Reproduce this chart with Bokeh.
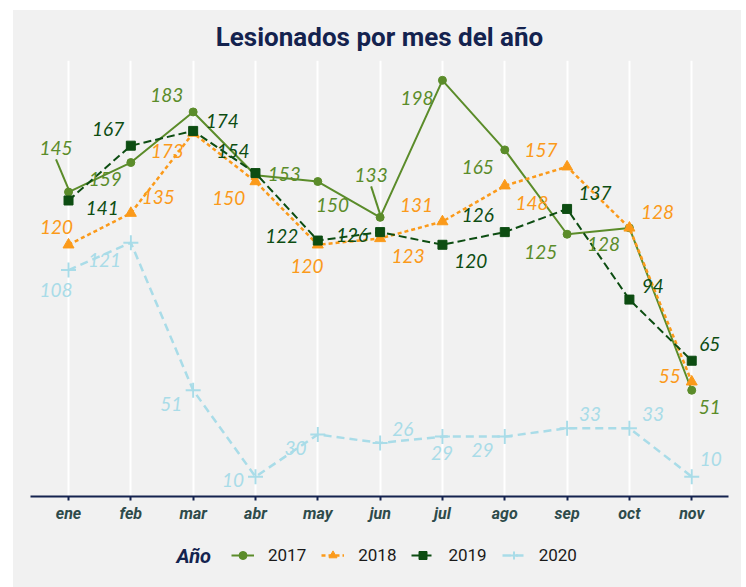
from bokeh.plotting import figure
from bokeh.layouts import column
from bokeh.models import (Range1d, FixedTicker, Legend, LegendItem, Label)
from bokeh.core.properties import value
from bokeh.embed import file_html
from bokeh.resources import INLINE

# ---- data ----
months = ["ene", "feb", "mar", "abr", "may", "jun", "jul", "ago", "sep", "oct", "nov"]
years = ["2017", "2018", "2019", "2020"]
v2017 = [145, 159, 183, 153, 150, 133, 198, 165, 125, 128, 51]
v2018 = [120, 135, 173, 150, 120, 123, 131, 148, 157, 128, 55]
v2019 = [141, 167, 174, 154, 122, 126, 120, 126, 137, 94, 65]
v2020 = [108, 121, 51, 10, 30, 26, 29, 29, 33, 33, 10]

# ---- label offsets in screen px (dx right, dy up) ----
off17 = [(-12.5, 43.7), (-25.5, -16), (-26.3, 16.6), (28.7, 0.7), (14.7, -23.5), (-9, 42),
         (-25.5, -17.7), (-27, -17.3), (-26.3, -17.3), (-26, -16.3), (18, -16.7)]
off18 = [(-12, 17.3), (27.5, 16), (-26, -17.5), (-26.7, -16.8), (-10.7, -21), (28, -17.4),
         (-26, 16.7), (27.3, -17), (-26, 16.3), (28, 16.3), (-22, 5.6)]
off19 = [(33.7, -7.2), (-22.7, 16.2), (29.2, 10.3), (-22.5, 22), (-36, 4.7), (-28, -3),
         (28.3, -16.7), (-27, 17), (28, 16.3), (23.3, 14), (18, 16.4)]
off20 = [(-12.5, -20), (-26.3, -17.2), (-21.8, -14), (-22.5, -3), (-22.3, -13.2), (22.7, 14),
         (-0.5, -16.7), (-22.3, -13.4), (23, 14), (23.7, 14), (19, 17.5)]

C17, C18, C19, C20 = "#5b8c2a", "#fb9a1a", "#0d4d12", "#a9dce8"
NAVY = "#14234f"
BG = "#f1f1f1"

x = list(range(1, len(months) + 1))
XR = (0.39, 11.59)
YR = (0.6, 207.4)
FW, FH = 698, 437  # frame size in px

p = figure(width=728, height=520, output_backend="svg", toolbar_location=None,
           x_range=Range1d(*XR), y_range=Range1d(*YR), y_axis_location=None,
           min_border_left=17, min_border_right=13, min_border_top=49, min_border_bottom=34)
p.background_fill_color = BG
p.border_fill_color = BG
p.outline_line_color = None

p.title.text = "Lesionados por mes del año"
p.title.align = "center"
p.title.text_font = "Roboto"
p.title.text_font_style = "bold"
p.title.text_font_size = "26px"
p.title.text_color = NAVY
p.title.standoff = 18

p.ygrid.visible = False
p.xgrid.grid_line_color = "white"
p.xgrid.grid_line_width = 2
p.xaxis.ticker = FixedTicker(ticks=x)
p.xaxis.major_label_overrides = {i: m for i, m in zip(x, months)}
p.xaxis.axis_line_color = NAVY
p.xaxis.axis_line_width = 2
p.xaxis.major_tick_line_color = NAVY
p.xaxis.major_tick_line_width = 2
p.xaxis.major_tick_in = 0
p.xaxis.major_tick_out = 4
p.xaxis.minor_tick_line_color = None
p.xaxis.major_label_standoff = 3
p.xaxis.major_label_text_font = "Roboto"
p.xaxis.major_label_text_font_style = "bold italic"
p.xaxis.major_label_text_font_size = "16px"
p.xaxis.major_label_text_color = "#2e4b4b"

series = [
    (v2017, C17, "solid", 2, "circle", 8, off17),
    (v2018, C18, "4 3", 2.5, "triangle", 11, off18),
    (v2019, C19, "8 4", 2, "square", 9, off19),
    (v2020, C20, "8 5", 2.5, "cross", 15, off20),
]

for (vals, col, dash, lw, mk, ms, offs) in series:
    p.line(x, vals, line_color=col, line_width=lw, line_dash=dash)
    if mk == "cross":
        p.scatter(x, vals, marker=mk, size=ms, line_color=col, line_width=2)
    else:
        p.scatter(x, vals, marker=mk, size=ms, fill_color=col, line_color=col)

# connector segments for two repelled labels (2017 ene, jun)
pxx = (XR[1] - XR[0]) / FW
pxy = (YR[1] - YR[0]) / FH
for i in (0, 5):
    dx, dy = off17[i]
    p.segment(x0=[x[i]], y0=[v2017[i] + 3 * pxy],
              x1=[x[i] + dx * pxx], y1=[v2017[i] + (dy - 11) * pxy],
              line_color=C17, line_width=2)

for (vals, col, dash, lw, mk, ms, offs) in series:
    p.text(x, vals, text=[str(v) for v in vals],
           x_offset=[o[0] for o in offs], y_offset=[-o[1] for o in offs],
           text_font=value("Lato"), text_font_style="italic", text_font_size="19px",
           text_color=col, text_align="center", text_baseline="middle")

# ---- legend strip (frame aligned with the main frame by the column) ----
lg = figure(width=728, height=57, output_backend="svg", toolbar_location=None,
            x_range=Range1d(0, 1), y_range=Range1d(0, 1),
            x_axis_location=None, y_axis_location=None, min_border=0)
lg.background_fill_color = BG
lg.border_fill_color = BG
lg.outline_line_color = None
lg.grid.visible = False

items = []
for (vals, col, dash, lw, mk, ms, offs), yr in zip(series, years):
    # off-range placeholders: only their legend glyphs are visible
    ln = lg.line([-5, -4], [-5, -5], line_color=col, line_width=lw, line_dash=dash)
    if mk == "cross":
        sc = lg.scatter([-5], [-5], marker=mk, size=ms, line_color=col, line_width=2)
    else:
        sc = lg.scatter([-5], [-5], marker=mk, size=ms, fill_color=col, line_color=col)
    items.append(LegendItem(label=yr, renderers=[ln, sc]))

legend = Legend(items=items, orientation="horizontal", location=(201, 22),
                padding=0, margin=0, spacing=15, glyph_width=23, glyph_height=20,
                label_standoff=14, label_text_font="Roboto", label_text_font_size="17px",
                label_text_color="#1a1a1a", border_line_color=None,
                background_fill_alpha=0)
lg.add_layout(legend, "center")
lg.add_layout(Label(x=146, y=32, x_units="screen", y_units="screen", text="Año",
                    text_font="Roboto", text_font_style="bold italic", text_font_size="20px",
                    text_color=NAVY, text_baseline="middle"))

layout = column(p, lg, spacing=0)
layout.margin = (10, 0, 0, 13)
layout.styles = {"background-color": BG}

open("out.html", "w").write(file_html(layout, INLINE))
